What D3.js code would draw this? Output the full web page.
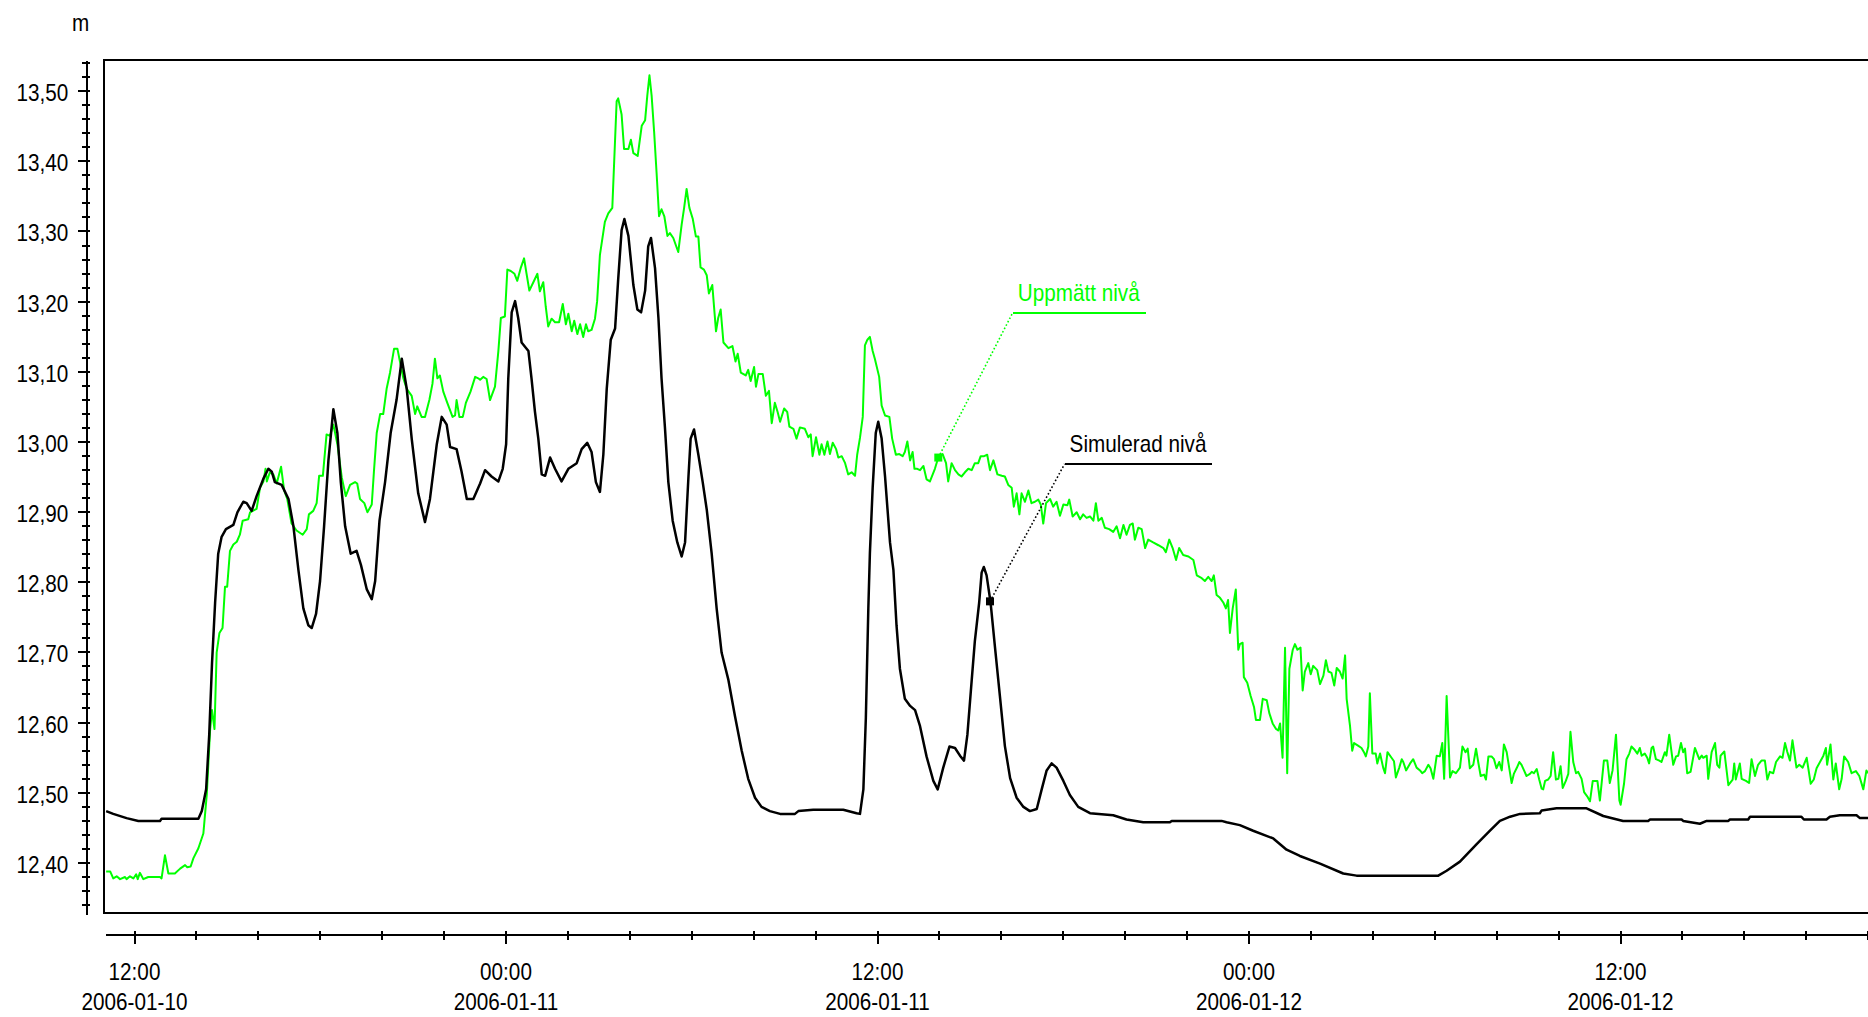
<!DOCTYPE html>
<html>
<head>
<meta charset="utf-8">
<script src="https://cdn.jsdelivr.net/npm/d3@7"></script>
<style>
  html, body { margin: 0; padding: 0; background: #fff; }
  svg { display: block; }
  text { font-family: "Liberation Sans", Arial, sans-serif; font-size: 23px; fill: #000; }
</style>
</head>
<body>
<svg id="chart" width="1868" height="1017"></svg>
<script>
// [hours since 2006-01-10 00:00, level in m]
const uppmattNiva = [
  [11.10,12.387],[11.23,12.387],[11.33,12.377],[11.44,12.380],[11.55,12.376],[11.71,12.379],[11.76,12.376],[11.87,12.380],
  [11.98,12.377],[12.07,12.383],[12.12,12.376],[12.19,12.385],[12.30,12.376],[12.46,12.379],[12.84,12.379],[12.89,12.377],
  [13.00,12.410],[13.11,12.384],[13.32,12.384],[13.49,12.391],[13.65,12.396],[13.72,12.393],[13.83,12.394],[13.92,12.406],
  [14.08,12.420],[14.24,12.441],[14.35,12.496],[14.46,12.590],[14.52,12.617],[14.60,12.590],[14.67,12.699],[14.76,12.727],
  [14.86,12.734],[14.94,12.793],[15.01,12.793],[15.10,12.844],[15.21,12.853],[15.32,12.857],[15.42,12.867],[15.51,12.887],
  [15.69,12.889],[15.75,12.899],[15.96,12.904],[16.07,12.934],[16.18,12.943],[16.25,12.961],[16.29,12.943],[16.39,12.956],
  [16.50,12.953],[16.61,12.940],[16.75,12.964],[16.85,12.930],[16.95,12.918],[17.09,12.883],[17.25,12.873],[17.45,12.867],
  [17.58,12.875],[17.65,12.896],[17.79,12.901],[17.90,12.912],[17.98,12.951],[18.10,12.951],[18.22,13.010],[18.33,13.008],
  [18.44,13.024],[18.57,12.996],[18.71,12.949],[18.84,12.922],[18.98,12.938],[19.14,12.942],[19.21,12.940],[19.30,12.918],
  [19.44,12.912],[19.54,12.899],[19.68,12.910],[19.75,12.957],[19.84,13.012],[19.95,13.039],[20.05,13.039],[20.16,13.075],
  [20.27,13.098],[20.40,13.132],[20.51,13.132],[20.59,13.114],[20.70,13.090],[20.81,13.075],[20.97,13.065],[21.08,13.039],
  [21.15,13.050],[21.29,13.035],[21.40,13.035],[21.54,13.059],[21.64,13.082],[21.72,13.118],[21.80,13.090],[21.88,13.094],
  [21.99,13.071],[22.12,13.055],[22.29,13.035],[22.37,13.037],[22.42,13.059],[22.51,13.035],[22.62,13.035],[22.72,13.055],
  [22.87,13.071],[23.02,13.092],[23.12,13.090],[23.18,13.088],[23.28,13.092],[23.39,13.089],[23.50,13.059],[23.66,13.078],
  [23.77,13.129],[23.85,13.176],[23.98,13.178],[24.06,13.245],[24.17,13.243],[24.29,13.239],[24.38,13.229],[24.49,13.247],
  [24.60,13.261],[24.68,13.239],[24.77,13.215],[24.90,13.227],[25.03,13.239],[25.11,13.214],[25.22,13.227],[25.30,13.192],
  [25.38,13.164],[25.49,13.175],[25.60,13.170],[25.73,13.170],[25.85,13.196],[25.95,13.167],[26.03,13.182],[26.14,13.157],
  [26.22,13.172],[26.32,13.153],[26.41,13.167],[26.51,13.149],[26.60,13.167],[26.67,13.157],[26.78,13.159],[26.89,13.175],
  [26.96,13.200],[27.05,13.266],[27.21,13.313],[27.32,13.325],[27.45,13.333],[27.59,13.485],[27.64,13.489],[27.75,13.466],
  [27.83,13.417],[27.97,13.417],[28.05,13.430],[28.13,13.411],[28.27,13.407],[28.40,13.450],[28.51,13.458],[28.58,13.493],
  [28.65,13.522],[28.72,13.493],[28.80,13.442],[28.88,13.383],[28.96,13.321],[29.04,13.331],[29.13,13.321],[29.23,13.293],
  [29.31,13.297],[29.42,13.290],[29.58,13.270],[29.69,13.309],[29.77,13.333],[29.85,13.360],[29.94,13.333],[30.05,13.317],
  [30.15,13.292],[30.23,13.292],[30.30,13.248],[30.41,13.245],[30.50,13.237],[30.57,13.211],[30.68,13.223],[30.80,13.157],
  [30.87,13.176],[30.95,13.188],[31.04,13.141],[31.20,13.133],[31.33,13.136],[31.43,13.114],[31.50,13.125],[31.60,13.098],
  [31.76,13.094],[31.84,13.102],[31.92,13.086],[32.03,13.106],[32.09,13.078],[32.17,13.096],[32.31,13.096],[32.41,13.065],
  [32.51,13.072],[32.60,13.026],[32.70,13.055],[32.79,13.042],[32.87,13.028],[33.00,13.047],[33.10,13.042],[33.17,13.021],
  [33.30,13.018],[33.40,13.004],[33.51,13.020],[33.67,13.018],[33.78,13.006],[33.86,13.010],[33.92,12.979],[34.03,13.006],
  [34.14,12.981],[34.21,12.996],[34.30,12.981],[34.40,13.000],[34.48,12.982],[34.57,12.998],[34.68,12.989],[34.75,12.977],
  [34.86,12.979],[34.97,12.969],[35.07,12.953],[35.18,12.956],[35.29,12.951],[35.36,12.981],[35.45,13.005],[35.54,13.035],
  [35.61,13.137],[35.69,13.145],[35.77,13.149],[35.86,13.129],[35.93,13.118],[36.07,13.092],[36.15,13.051],[36.26,13.037],
  [36.40,13.035],[36.49,13.004],[36.61,12.981],[36.72,12.982],[36.83,12.979],[36.90,12.985],[36.98,13.000],[37.07,12.973],
  [37.15,12.985],[37.21,12.961],[37.30,12.961],[37.39,12.959],[37.50,12.965],[37.60,12.946],[37.71,12.943],[37.87,12.961],
  [37.98,12.977],[38.12,12.982],[38.23,12.969],[38.30,12.943],[38.41,12.969],[38.52,12.959],[38.63,12.953],[38.73,12.950],
  [38.84,12.956],[38.95,12.961],[39.06,12.959],[39.16,12.969],[39.27,12.969],[39.35,12.979],[39.46,12.979],[39.56,12.981],
  [39.65,12.959],[39.76,12.973],[39.89,12.953],[40.03,12.951],[40.13,12.950],[40.24,12.938],[40.35,12.934],[40.42,12.907],
  [40.51,12.926],[40.60,12.896],[40.67,12.926],[40.78,12.914],[40.89,12.930],[40.99,12.912],[41.10,12.914],[41.21,12.917],
  [41.29,12.910],[41.37,12.883],[41.46,12.912],[41.59,12.918],[41.69,12.907],[41.80,12.914],[41.91,12.894],[42.02,12.910],
  [42.15,12.909],[42.21,12.917],[42.32,12.893],[42.45,12.899],[42.56,12.889],[42.66,12.896],[42.77,12.891],[42.88,12.893],
  [42.99,12.887],[43.07,12.912],[43.15,12.887],[43.26,12.891],[43.36,12.877],[43.50,12.875],[43.63,12.871],[43.74,12.879],
  [43.85,12.862],[43.96,12.881],[44.06,12.867],[44.17,12.881],[44.26,12.883],[44.33,12.860],[44.44,12.877],[44.55,12.875],
  [44.66,12.848],[44.76,12.860],[44.92,12.856],[45.09,12.852],[45.25,12.848],[45.33,12.842],[45.44,12.860],[45.55,12.848],
  [45.66,12.831],[45.76,12.848],[45.89,12.838],[46.06,12.836],[46.22,12.831],[46.33,12.809],[46.49,12.805],[46.59,12.801],
  [46.70,12.807],[46.81,12.801],[46.88,12.809],[46.97,12.781],[47.08,12.777],[47.19,12.770],[47.27,12.762],[47.34,12.774],
  [47.40,12.727],[47.49,12.762],[47.59,12.789],[47.67,12.703],[47.72,12.711],[47.81,12.713],[47.85,12.664],[47.96,12.656],
  [48.07,12.637],[48.18,12.621],[48.24,12.603],[48.37,12.603],[48.46,12.633],[48.59,12.631],[48.67,12.613],[48.78,12.598],
  [48.89,12.590],[48.96,12.588],[49.02,12.598],[49.10,12.549],[49.18,12.706],[49.25,12.527],[49.32,12.676],[49.43,12.703],
  [49.50,12.711],[49.58,12.703],[49.68,12.706],[49.75,12.645],[49.82,12.672],[49.93,12.684],[50.01,12.668],[50.09,12.680],
  [50.22,12.674],[50.31,12.654],[50.42,12.666],[50.50,12.688],[50.58,12.672],[50.68,12.670],[50.77,12.652],[50.85,12.677],
  [50.95,12.672],[51.04,12.662],[51.12,12.695],[51.17,12.633],[51.28,12.594],[51.35,12.559],[51.41,12.570],[51.55,12.566],
  [51.65,12.563],[51.73,12.557],[51.79,12.551],[51.87,12.565],[51.92,12.641],[52.00,12.555],[52.11,12.555],[52.16,12.541],
  [52.25,12.555],[52.35,12.535],[52.41,12.527],[52.49,12.557],[52.62,12.549],[52.70,12.544],[52.76,12.521],[52.87,12.535],
  [52.95,12.547],[53.00,12.543],[53.09,12.531],[53.22,12.541],[53.32,12.547],[53.43,12.535],[53.54,12.531],[53.61,12.527],
  [53.70,12.530],[53.81,12.539],[53.88,12.534],[53.97,12.519],[54.08,12.552],[54.18,12.551],[54.26,12.570],[54.32,12.519],
  [54.40,12.637],[54.51,12.521],[54.59,12.530],[54.70,12.527],[54.83,12.535],[54.91,12.565],[55.01,12.557],[55.08,12.562],
  [55.15,12.534],[55.26,12.539],[55.35,12.562],[55.42,12.543],[55.50,12.523],[55.61,12.525],[55.67,12.518],[55.75,12.551],
  [55.85,12.551],[55.93,12.547],[56.01,12.534],[56.10,12.543],[56.18,12.531],[56.25,12.568],[56.34,12.557],[56.42,12.535],
  [56.50,12.513],[56.57,12.526],[56.66,12.534],[56.75,12.543],[56.82,12.539],[56.90,12.531],[56.98,12.523],[57.09,12.526],
  [57.15,12.529],[57.22,12.527],[57.31,12.533],[57.39,12.518],[57.47,12.505],[57.52,12.504],[57.58,12.516],[57.68,12.518],
  [57.76,12.523],[57.84,12.557],[57.93,12.518],[58.01,12.519],[58.08,12.537],[58.15,12.506],[58.25,12.516],[58.33,12.526],
  [58.40,12.586],[58.49,12.543],[58.58,12.527],[58.65,12.529],[58.76,12.519],[58.84,12.500],[58.94,12.494],[59.03,12.487],
  [59.12,12.516],[59.27,12.516],[59.35,12.488],[59.48,12.545],[59.59,12.545],[59.67,12.513],[59.76,12.531],[59.87,12.582],
  [59.98,12.488],[60.02,12.482],[60.13,12.512],[60.21,12.547],[60.30,12.555],[60.37,12.565],[60.48,12.560],[60.56,12.555],
  [60.64,12.563],[60.70,12.552],[60.80,12.555],[60.88,12.549],[60.94,12.541],[61.02,12.563],[61.07,12.565],[61.16,12.547],
  [61.27,12.545],[61.34,12.543],[61.45,12.557],[61.50,12.552],[61.59,12.582],[61.72,12.539],[61.81,12.551],[61.88,12.552],
  [61.97,12.570],[62.04,12.557],[62.10,12.562],[62.17,12.527],[62.28,12.529],[62.42,12.563],[62.56,12.547],[62.64,12.552],
  [62.69,12.549],[62.80,12.552],[62.85,12.519],[62.96,12.557],[63.07,12.570],[63.14,12.539],[63.21,12.535],[63.25,12.552],
  [63.37,12.558],[63.50,12.510],[63.64,12.518],[63.69,12.541],[63.74,12.518],[63.87,12.541],[63.93,12.519],[64.07,12.516],
  [64.17,12.513],[64.25,12.547],[64.36,12.523],[64.46,12.539],[64.57,12.545],[64.68,12.545],[64.76,12.518],[64.84,12.529],
  [64.95,12.527],[65.04,12.543],[65.17,12.551],[65.25,12.549],[65.33,12.570],[65.40,12.558],[65.49,12.545],[65.57,12.574],
  [65.70,12.535],[65.79,12.539],[65.90,12.535],[66.03,12.549],[66.16,12.512],[66.26,12.518],[66.35,12.534],[66.57,12.552],
  [66.65,12.563],[66.69,12.539],[66.80,12.568],[66.89,12.518],[66.97,12.541],[67.08,12.504],[67.16,12.519],[67.24,12.551],
  [67.37,12.543],[67.48,12.527],[67.62,12.530],[67.73,12.523],[67.86,12.504],[67.96,12.531],[68.01,12.527]
];

const simuleradNiva = [
  [11.10,12.473],[11.33,12.469],[11.76,12.463],[12.14,12.459],[12.84,12.459],[12.89,12.462],[14.08,12.462],[14.19,12.473],
  [14.33,12.504],[14.43,12.582],[14.52,12.684],[14.62,12.770],[14.72,12.840],[14.83,12.864],[14.97,12.875],[15.21,12.881],
  [15.34,12.899],[15.53,12.914],[15.64,12.912],[15.80,12.901],[15.96,12.922],[16.18,12.947],[16.34,12.961],[16.45,12.957],
  [16.55,12.942],[16.77,12.938],[16.99,12.918],[17.15,12.879],[17.31,12.817],[17.47,12.762],[17.63,12.738],[17.74,12.734],
  [17.88,12.754],[18.01,12.801],[18.14,12.879],[18.28,12.973],[18.44,13.046],[18.57,13.012],[18.68,12.942],[18.82,12.879],
  [19.00,12.840],[19.19,12.844],[19.33,12.824],[19.52,12.789],[19.68,12.775],[19.79,12.801],[19.93,12.887],[20.11,12.942],
  [20.29,13.012],[20.48,13.059],[20.65,13.118],[20.81,13.075],[20.97,13.004],[21.18,12.926],[21.40,12.885],[21.56,12.918],
  [21.78,12.996],[21.94,13.035],[22.10,13.024],[22.21,12.992],[22.42,12.989],[22.58,12.957],[22.75,12.918],[22.96,12.918],
  [23.18,12.940],[23.34,12.959],[23.55,12.950],[23.77,12.943],[23.91,12.961],[24.02,12.996],[24.09,13.090],[24.20,13.184],
  [24.31,13.200],[24.41,13.176],[24.52,13.141],[24.74,13.129],[24.84,13.090],[24.95,13.043],[25.06,13.004],[25.17,12.953],
  [25.28,12.951],[25.44,12.977],[25.60,12.961],[25.81,12.943],[26.03,12.961],[26.30,12.969],[26.46,12.989],[26.64,12.998],
  [26.78,12.985],[26.92,12.942],[27.05,12.928],[27.16,12.981],[27.27,13.075],[27.40,13.145],[27.54,13.161],[27.64,13.231],
  [27.75,13.301],[27.84,13.317],[27.97,13.293],[28.13,13.223],[28.26,13.188],[28.38,13.184],[28.51,13.215],[28.61,13.278],
  [28.70,13.290],[28.83,13.247],[28.94,13.176],[29.04,13.090],[29.15,13.020],[29.26,12.942],[29.40,12.887],[29.55,12.856],
  [29.69,12.836],[29.80,12.856],[29.91,12.950],[29.98,13.004],[30.09,13.017],[30.23,12.981],[30.37,12.942],[30.50,12.903],
  [30.66,12.840],[30.82,12.762],[30.98,12.699],[31.20,12.660],[31.41,12.609],[31.63,12.559],[31.84,12.519],[32.06,12.492],
  [32.27,12.479],[32.54,12.473],[32.87,12.469],[33.35,12.469],[33.46,12.473],[33.94,12.475],[34.91,12.475],[35.34,12.470],
  [35.45,12.469],[35.56,12.504],[35.64,12.606],[35.72,12.762],[35.77,12.840],[35.86,12.934],[35.96,13.012],[36.04,13.028],
  [36.15,13.004],[36.26,12.950],[36.42,12.856],[36.53,12.817],[36.63,12.738],[36.74,12.676],[36.90,12.633],[37.07,12.623],
  [37.23,12.617],[37.39,12.594],[37.60,12.551],[37.82,12.516],[37.96,12.504],[38.14,12.535],[38.34,12.565],[38.52,12.563],
  [38.68,12.552],[38.81,12.545],[38.92,12.582],[39.06,12.660],[39.16,12.715],[39.30,12.770],[39.38,12.813],[39.45,12.821],
  [39.54,12.809],[39.67,12.770],[39.81,12.707],[39.97,12.637],[40.13,12.566],[40.30,12.520],[40.51,12.492],[40.73,12.479],
  [40.94,12.473],[41.16,12.476],[41.32,12.504],[41.48,12.531],[41.64,12.541],[41.80,12.535],[42.02,12.516],[42.23,12.496],
  [42.50,12.479],[42.88,12.470],[43.63,12.467],[44.06,12.461],[44.60,12.457],[45.46,12.457],[45.52,12.459],[47.13,12.459],
  [47.29,12.457],[47.72,12.453],[48.15,12.445],[48.80,12.434],[49.23,12.418],[49.66,12.409],[50.31,12.398],[51.06,12.384],
  [51.49,12.381],[54.13,12.381],[54.40,12.388],[54.83,12.401],[55.37,12.426],[55.80,12.445],[56.12,12.459],[56.45,12.465],
  [56.77,12.469],[57.41,12.470],[57.47,12.474],[57.95,12.477],[58.92,12.477],[59.46,12.466],[60.10,12.459],[60.91,12.459],
  [60.97,12.461],[61.99,12.461],[62.04,12.459],[62.58,12.455],[62.80,12.459],[63.50,12.459],[63.55,12.461],[64.14,12.461],
  [64.20,12.465],[65.86,12.465],[65.94,12.461],[66.67,12.461],[66.78,12.465],[67.10,12.467],[67.64,12.467],[67.75,12.463],
  [68.01,12.463]
];

const yMajorTicks = [12.4, 12.5, 12.6, 12.7, 12.8, 12.9, 13.0, 13.1, 13.2, 13.3, 13.4, 13.5];
const yMinorTicks = d3.range(1234, 1355, 2).map(d => d / 100);   // every 0,02 m
const xMajorHours = [12, 24, 36, 48, 60];
const xMinorHours = d3.range(12, 69, 2);
const yUnit = "m";

// legend callouts: label, colour, anchor point on the curve [hours, m]
const legendLabels = ["Uppmätt nivå", "Simulerad nivå"];
const legendColors = ["#00ff00", "#000000"];
const legendAnchors = [[37.98, 12.977], [39.65, 12.772]];

const startDate = new Date(2006, 0, 10, 0, 0, 0);
const toDate = h => new Date(startDate.getTime() + h * 3600000);

const svg = d3.select("#chart");
const frame = { left: 104.3, top: 60.3, bottom: 912.7, right: 1900 };
const SX = 0.9; // the original font is a little narrower than Liberation Sans

const x = d3.scaleTime().domain([toDate(12), toDate(60)]).range([134, 1620]);
const y = d3.scaleLinear().domain([12.4, 13.5]).range([862.3, 90.7]);

const comma = d3.formatLocale({ decimal: ",", thousands: " ", grouping: [3], currency: ["", ""] }).format(".2f");

// frame
svg.append("rect")
  .attr("x", frame.left).attr("y", frame.top)
  .attr("width", frame.right - frame.left).attr("height", frame.bottom - frame.top)
  .attr("fill", "none").attr("stroke", "#000").attr("stroke-width", 2)
  .attr("shape-rendering", "crispEdges");

svg.append("clipPath").attr("id", "plotclip")
  .append("rect")
  .attr("x", frame.left + 1).attr("y", frame.top + 1)
  .attr("width", frame.right - frame.left).attr("height", frame.bottom - frame.top - 2);

// y axis, standing apart from the frame
const yAxisX = 86.7;
const gyMinor = svg.append("g").attr("transform", `translate(${yAxisX},0)`)
  .call(d3.axisLeft(y).tickValues(yMinorTicks).tickSize(4.4).tickSizeOuter(0).tickFormat(""));
gyMinor.selectAll(".tick line").attr("x1", 3.3);
const gyMajor = svg.append("g").attr("transform", `translate(${yAxisX},0)`)
  .call(d3.axisLeft(y).tickValues(yMajorTicks).tickSize(9).tickSizeOuter(0).tickFormat(comma));
gyMajor.selectAll(".tick line").attr("x1", 3.3);
gyMajor.select(".domain").remove();
gyMinor.select(".domain").attr("d", `M0,61V915`);
svg.selectAll("g .tick line, g .domain").attr("stroke-width", 2).attr("shape-rendering", "crispEdges");
gyMajor.selectAll(".tick text")
  .attr("x", -18.4 / SX).attr("dy", 10)
  .attr("transform", `scale(${SX},1)`)
  .style("font-size", "23px").style("font-family", "'Liberation Sans', Arial, sans-serif");

svg.append("text")
  .attr("transform", `translate(80.5,30.7) scale(${SX},1)`)
  .attr("text-anchor", "middle")
  .text(yUnit);

// x axis, below the frame
const xAxisY = 935;
const gxMinor = svg.append("g").attr("transform", `translate(0,${xAxisY})`)
  .call(d3.axisBottom(x).tickValues(xMinorHours.map(toDate)).tickSize(5).tickSizeOuter(0).tickFormat(""));
gxMinor.selectAll(".tick line").attr("y1", -4.3);
gxMinor.select(".domain").attr("d", `M106,0H1900`);
const gxMajor = svg.append("g").attr("transform", `translate(0,${xAxisY})`)
  .call(d3.axisBottom(x).tickValues(xMajorHours.map(toDate)).tickSize(9.3).tickSizeOuter(0));
gxMajor.select(".domain").remove();
gxMajor.selectAll(".tick line").attr("y1", -4.3);
svg.selectAll("g .tick line, g .domain").attr("stroke-width", 2).attr("shape-rendering", "crispEdges");

const fmtTime = d3.timeFormat("%H:%M");
const fmtDate = d3.timeFormat("%Y-%m-%d");
gxMajor.selectAll(".tick text").each(function(d) {
  const t = d3.select(this).text("").attr("y", 0).attr("dy", null)
    .attr("transform", `scale(${SX},1)`)
    .style("font-size", "23px").style("font-family", "'Liberation Sans', Arial, sans-serif");
  t.append("tspan").attr("x", 0).attr("y", 45).text(fmtTime(d));
  t.append("tspan").attr("x", 0).attr("y", 75).text(fmtDate(d));
});

// series
const line = d3.line()
  .x(d => x(toDate(d[0])))
  .y(d => y(d[1]));

const plot = svg.append("g").attr("clip-path", "url(#plotclip)");
plot.append("path").datum(uppmattNiva)
  .attr("d", line).attr("fill", "none")
  .attr("stroke", legendColors[0]).attr("stroke-width", 2).attr("stroke-linejoin", "round");
plot.append("path").datum(simuleradNiva)
  .attr("d", line).attr("fill", "none")
  .attr("stroke", legendColors[1]).attr("stroke-width", 2.5).attr("stroke-linejoin", "round");

// legend callouts
const callOffsets = [[74.5, -145], [74.6, -137.4]];
legendLabels.forEach((label, i) => {
  const mx = x(toDate(legendAnchors[i][0]));
  const my = y(legendAnchors[i][1]);
  const ux = mx + callOffsets[i][0];
  const uy = my + callOffsets[i][1];
  const g = svg.append("g");
  g.append("line")
    .attr("x1", mx).attr("y1", my).attr("x2", ux).attr("y2", uy)
    .attr("stroke", legendColors[i]).attr("stroke-width", 1.6).attr("stroke-dasharray", "1.6,2.2");
  g.append("rect")
    .attr("x", mx - 4).attr("y", my - 4).attr("width", 8).attr("height", 8)
    .attr("fill", legendColors[i]);
  const txt = g.append("text")
    .attr("transform", `translate(${ux + 5},${uy - 11.5}) scale(${SX},1)`)
    .style("fill", legendColors[i])
    .text(label);
  const w = txt.node().getComputedTextLength() * SX;
  g.append("line")
    .attr("x1", ux).attr("y1", uy).attr("x2", ux + w + 11).attr("y2", uy)
    .attr("stroke", legendColors[i]).attr("stroke-width", 2)
    .attr("shape-rendering", "crispEdges");
});
</script>
</body>
</html>
